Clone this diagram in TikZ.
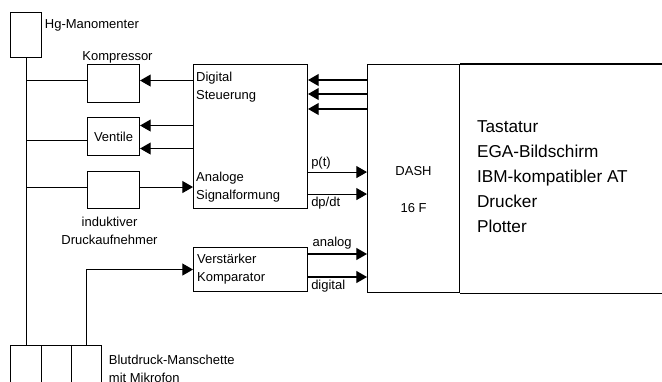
\documentclass[tikz,border=0pt]{standalone}
\usepackage{fontspec}
\setmainfont{Liberation Sans}
\usepackage{tikz}
\usetikzlibrary{arrows.meta,positioning,calc}

\tikzset{
  blk/.style={draw,rectangle,anchor=north west,inner sep=0pt},
  big/.style={font=\fontsize{12.9}{18.75}\selectfont},
}

\begin{document}
\begin{tikzpicture}[x=0.75pt,y=-0.75pt,>={Triangle[length=8pt,width=9pt]},line width=0.8pt,
  font=\fontsize{9.75}{13.5}\selectfont]
\useasboundingbox (0,0) rectangle (662,382);
\clip (0,0) rectangle (662,382);
% blocks
\node[blk,minimum width=23.25pt,minimum height=33.75pt] (hg) at (10,12) {};
\node[blk,minimum width=39pt,minimum height=28.5pt] (komp) at (87,64) {};
\node[blk,minimum width=39pt,minimum height=28.5pt] (vent) at (87,117) {Ventile};
\node[blk,minimum width=39pt,minimum height=27.75pt] (ind) at (87,171) {};
\node[blk,minimum width=85.5pt,minimum height=108pt] (ctrl) at (193,64) {};
\node[blk,text width=80pt,align=left,inner sep=2.75pt,minimum height=33pt] (amp) at (193,247) {Verst\"arker\\Komparator};
\node[blk,minimum width=69pt,minimum height=171pt] (dash) at (367,64) {};
\node[blk,minimum width=23.25pt,minimum height=33.75pt] (cuff1) at (10,345) {};
\node[blk,minimum width=22.5pt,minimum height=33.75pt] (cuff2) at (41,345) {};
\node[blk,minimum width=22.5pt,minimum height=33.75pt] (cuff3) at (71,345) {};
\draw (dash.north east) -- ++(300,0) (dash.south east) -- ++(300,0);
% labels
\node[anchor=west,inner sep=1pt] (hglbl) at ($(hg.north east)+(1,13)$) {Hg-Manomenter};
\node[above=-3pt of komp,xshift=3pt] (komplbl) {Kompressor};
\node[below=2pt of ind,align=center,xshift=-3pt] (indlbl) {induktiver\\Druckaufnehmer};
\node[anchor=north west,align=left,inner sep=2pt,yshift=-3.5pt] (ctrltxt) at (ctrl.north west) {Digital\\Steuerung};
\node[anchor=south west,align=left,inner sep=2pt,yshift=3pt] (anatxt) at (ctrl.south west) {Analoge\\Signalformung};
\node (dashtxt) at ($(dash.center)+(0,-8)$) {DASH};
\node (dashnum) at ($(dash.center)+(0,29)$) {16 F};
\node[big,anchor=west,align=left] (pclist) at ($(dash.east)+(12,-2)$) {Tastatur\\EGA-Bildschirm\\IBM-kompatibler AT\\Drucker\\Plotter};
\node[anchor=west,align=left,inner sep=1pt] (cufflbl) at ($(cuff3.north east)+(5,24)$) {Blutdruck-Manschette\\mit Mikrofon};
% pneumatic lines
\coordinate (k) at ($(komp.west)+(0,-3)$);
\coordinate (v) at ($(vent.west)+(0,4)$);
\coordinate (i) at ($(ind.west)+(0,-3)$);
\draw (hg.south) -- (cuff1.north);
\draw (hg.south |- k) -- (k);
\draw (hg.south |- v) -- (v);
\draw (hg.south |- i) -- (i);
% signals
\draw[->] (ctrl.west |- k) -- (k -| komp.east);
\coordinate (v1) at ($(vent.east)+(0,-11)$);
\coordinate (v2) at ($(vent.east)+(0,12)$);
\draw[->] (v1 -| ctrl.west) -- (v1);
\draw[->] (v2 -| ctrl.west) -- (v2);
\draw[->] (i -| ind.east) -- (i -| ctrl.west);
\foreach \dy in {16,30,45}{
  \coordinate (c) at ($(ctrl.north east)+(0,\dy)$);
  \draw[->] (c -| dash.west) -- (c);
}
\coordinate (pt) at ($(ctrl.south east)+(0,-37)$);
\coordinate (dpdt) at ($(ctrl.south east)+(0,-15)$);
\coordinate (ana) at ($(amp.north east)+(0,7)$);
\coordinate (dig) at ($(amp.north east)+(0,30)$);
\draw[->] (pt) -- (pt -| dash.west) node[pos=0,above right,inner sep=2pt] (ptlbl) {p(t)};
\draw[->] (dpdt) -- (dpdt -| dash.west) node[pos=0,below right,inner sep=2pt] (dpdtlbl) {dp/dt};
\draw[->] (ana) -- (ana -| dash.west) node[pos=0,above right,inner sep=3pt] (analbl) {analog};
\draw[->] (dig) -- (dig -| dash.west) node[pos=0,below right,inner sep=2pt] (diglbl) {digital};
\draw[->] (cuff3.north) |- (amp.west);
\end{tikzpicture}
\end{document}
